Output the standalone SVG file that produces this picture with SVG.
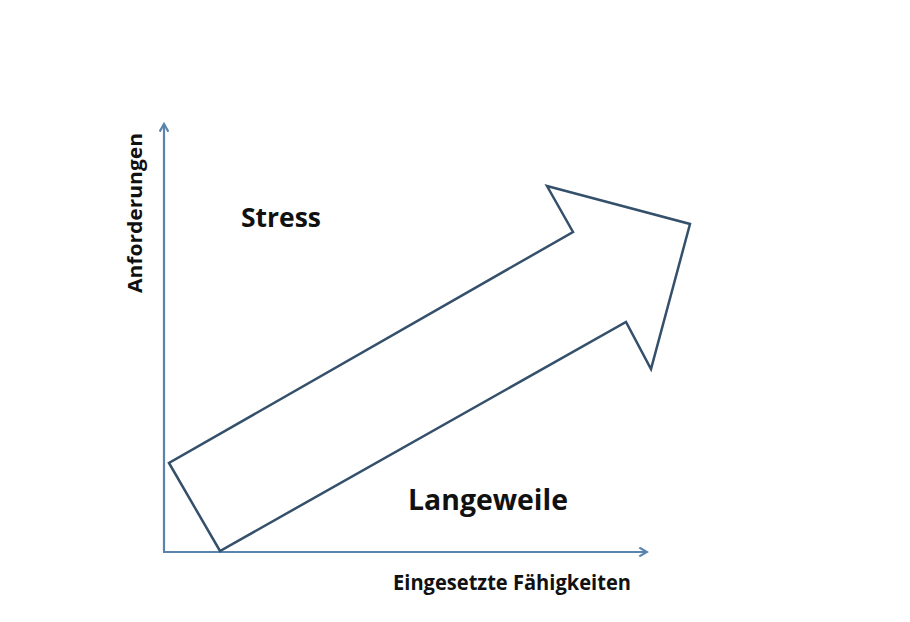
<svg xmlns="http://www.w3.org/2000/svg" width="910" height="622" viewBox="0 0 910 622">
  <defs>
    <marker id="ah" viewBox="0 0 10 10" refX="8" refY="5" markerWidth="5" markerHeight="5" orient="auto" markerUnits="strokeWidth">
      <path d="M1,1 L8,5 L1,9" fill="none" stroke="#5a84ad" stroke-width="2"/>
    </marker>
    <style>
      .axis { stroke: #5a84ad; stroke-width: 2.2; fill: none; }
      .big { font-family: "Open Sans", "Liberation Sans", sans-serif; font-weight: bold; fill: #111; }
      .lab { font-family: "Open Sans", "Liberation Sans", sans-serif; font-weight: bold; fill: #111; }
      .flow { fill: #ffffff; stroke: #34506b; stroke-width: 2.5; stroke-linejoin: miter; }
    </style>
  </defs>
  <rect width="910" height="622" fill="#ffffff"/>
  <g id="connectors">
    <line class="axis" x1="164" y1="552" x2="164" y2="124" marker-end="url(#ah)"/>
    <line class="axis" x1="163" y1="552" x2="647" y2="552" marker-end="url(#ah)"/>
  </g>
  <g id="flow-arrow">
    <polygon class="flow" points="169,463 220,551 626,322 651,369 690,224 547,186 573,232"/>
  </g>
  <g id="stress">
    <text class="big" x="241" y="227" font-size="27" textLength="80" lengthAdjust="spacingAndGlyphs">Stress</text>
  </g>
  <g id="langeweile">
    <text class="big" x="408" y="510" font-size="29" textLength="160" lengthAdjust="spacingAndGlyphs">Langeweile</text>
  </g>
  <g id="x-label">
    <text class="lab" x="393" y="590" font-size="21" textLength="238" lengthAdjust="spacingAndGlyphs">Eingesetzte Fähigkeiten</text>
  </g>
  <g id="y-label">
    <text class="lab" transform="translate(142,293) rotate(-90)" x="0" y="0" font-size="20" textLength="160" lengthAdjust="spacingAndGlyphs">Anforderungen</text>
  </g>
</svg>
